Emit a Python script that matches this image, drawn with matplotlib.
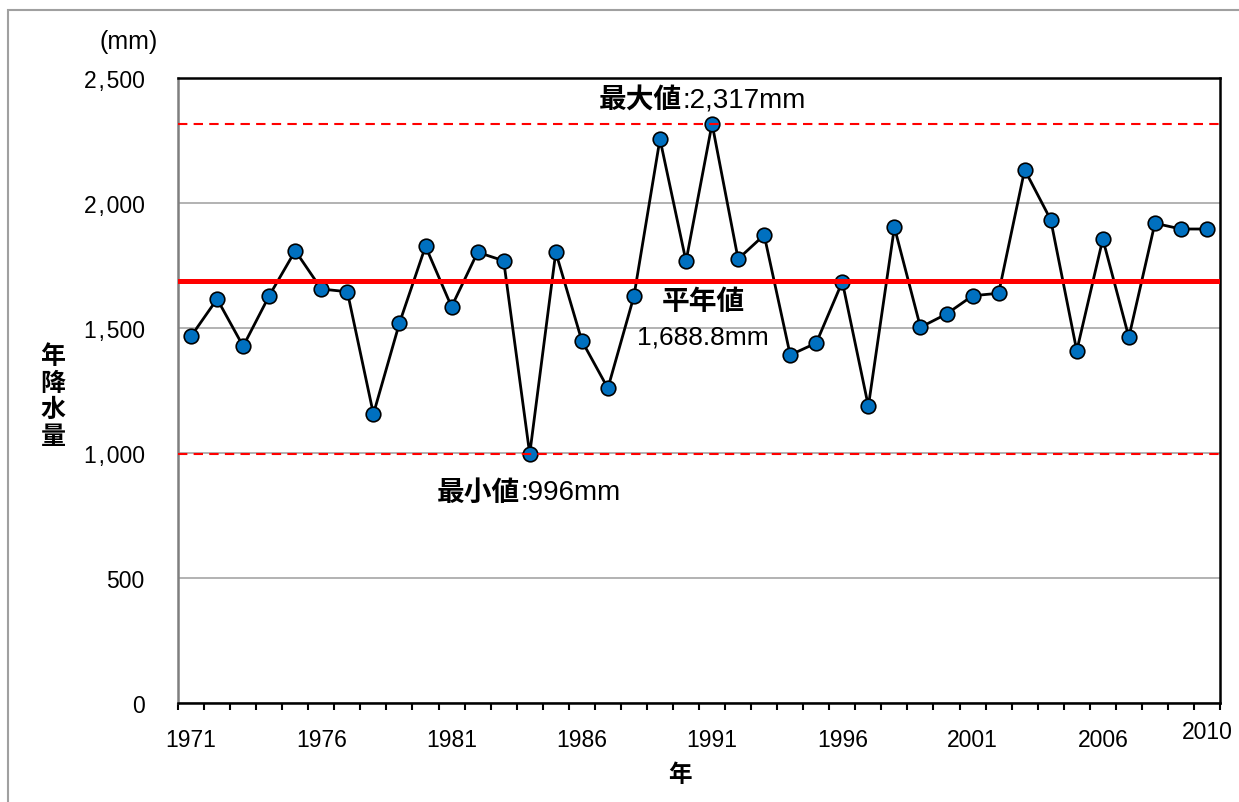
import matplotlib.pyplot as plt
import numpy as np
from matplotlib.patches import Rectangle
from matplotlib.transforms import ScaledTranslation

# annual precipitation (mm), 1971-2010
years = list(range(1971, 2011))
rain = [1467, 1616, 1427, 1629, 1809, 1656, 1645, 1156, 1520, 1827,
        1585, 1803, 1769, 996, 1803, 1449, 1259, 1627, 2256, 1767,
        2317, 1776, 1872, 1392, 1440, 1685, 1187, 1903, 1503, 1556,
        1629, 1639, 2133, 1933, 1409, 1856, 1463, 1919, 1896, 1896]
normal = 1688.8
rain_max = 2317
rain_min = 996
label_years = [1971, 1976, 1981, 1986, 1991, 1996, 2001, 2006, 2010]
yticks = [0, 500, 1000, 1500, 2000, 2500]

JP = ['Liberation Sans', 'Noto Sans CJK JP', 'DejaVu Sans']
CJK = ['Noto Sans CJK JP']
plt.rcParams['font.family'] = JP

fig = plt.figure(figsize=(12.39, 8.03), dpi=100)
ax = fig.add_axes([0.1437, 0.1233, 0.841, 0.7783])

x = np.arange(len(years))
ax.plot(x, rain, color='black', lw=2.0, marker='o', ms=10.5,
        mfc='#0070C0', mec='black', mew=1.2, zorder=3)

ax.axhline(normal, color='#ff0000', lw=3.6, zorder=4)
ax.axhline(rain_max, color='#ff0000', lw=1.5, ls=(0, (4.5, 3)), zorder=4)
ax.axhline(rain_min, color='#ff0000', lw=1.5, ls=(0, (4.5, 3)), zorder=4)

ax.set_xlim(-0.5, len(years) - 0.5)
ax.set_ylim(0, 2500)
ax.set_yticks(yticks)
ax.set_yticklabels([f'{v:,}'.replace(',', '\u200a,\u200a') for v in yticks])
ax.tick_params(axis='y', length=0, pad=24, labelsize=16.5)
ax.yaxis.grid(True, color='#a6a6a6', lw=1.2)
ax.set_axisbelow(True)

# category axis: ticks on the boundaries, labels under the points
ax.set_xticks(np.arange(len(years) + 1) - 0.5, minor=True)
ax.set_xticks([years.index(y) for y in label_years])
ax.set_xticklabels([str(y) for y in label_years])
ax.tick_params(axis='x', which='major', length=0, pad=18, labelsize=16.5)
ax.tick_params(axis='x', which='minor', length=5, width=1.5,
               direction='out', color='black')
last = ax.get_xticklabels()[-1]
last.set_transform(last.get_transform()
                   + ScaledTranslation(0, 0.08, fig.dpi_scale_trans))

for side in ['top', 'right', 'bottom']:
    ax.spines[side].set_color('black')
    ax.spines[side].set_linewidth(1.8)
ax.spines['left'].set_color('#7f7f7f')
ax.spines['left'].set_linewidth(1.8)

# value labels: bold kanji, plain numbers after the colon
def split_label(xc, yv, head, tail):
    ax.text(xc, yv, head, ha='right', va='center', fontsize=20,
            fontweight='bold', family=CJK)
    ax.text(xc, yv, tail, ha='left', va='center', fontsize=20, family=JP)

split_label(18.85, 2416, '最大値', ':2,317mm')
split_label(12.63, 844, '最小値', ':996mm')
ax.text(19.65, 1608, '平年値', ha='center', va='center', fontsize=20,
        fontweight='bold', family=CJK)
ax.text(19.65, 1468, f'{normal:,.1f}mm', ha='center', va='center',
        fontsize=19)

fig.text(129 / 1239, 1 - 42 / 803, '(mm)', ha='center', va='center',
         fontsize=18)
fig.text(53 / 1239, 1 - 397 / 803, '年\n降\n水\n量', ha='center',
         va='center', fontsize=18, fontweight='bold', linespacing=1.15,
         family=CJK)
fig.text(680 / 1239, 1 - 775 / 803, '年', ha='center', va='center',
         fontsize=17, fontweight='bold', family=CJK)

# outer chart frame
fig.patches.append(Rectangle((8 / 1239, -0.02), 1.05, 1 - 11 / 803 + 0.02,
                             transform=fig.transFigure, fill=False,
                             edgecolor='#a0a0a0', lw=1.5))

fig.savefig('out.png', dpi=100)
